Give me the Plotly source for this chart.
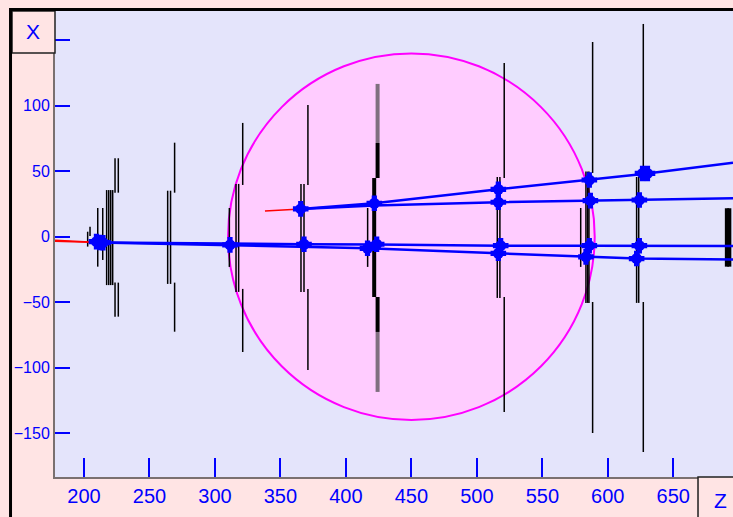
import plotly.graph_objects as go

# ---------------- data (detector coordinates: Z horizontal, X vertical) ----------------
# thin black strip-hit segments: z position, lower x, upper x
thin_z  = [202.8, 204.6, 210.5, 214.3, 217.3, 218.9, 220.4, 221.9,
           223.7, 226.2, 223.7, 226.2,
           263.9, 266.1, 269.2, 269.2,
           311.0, 316.1, 318.1, 321.2, 321.2,
           365.7, 368.0, 371.0, 371.0,
           416.6,
           515.6, 517.6, 520.9, 520.9,
           579.3, 583.3, 584.6, 585.6, 588.4, 588.4,
           622.0, 623.6, 627.1, 627.1]
thin_lo = [-7.6, 0.5, -22.9, -17.8, -37.0, -37.0, -37.0, -37.0,
           33.6, 33.6, -61.1, -61.1,
           -36.1, -36.1, 33.6, -72.6,
           -23.1, -42.2, -42.2, 39.5, -88.1,
           -42.2, -42.2, 39.5, -101.8,
           -23.1,
           -46.8, -46.8, 44.8, -133.9,
           -23.1, -50.6, -50.6, -50.6, 48.7, -150.0,
           -50.6, -50.6, 45.6, -164.5]
thin_hi = [3.8, 7.6, 21.9, 21.9, 35.6, 35.6, 35.6, 35.6,
           59.9, 59.9, -35.1, -35.1,
           35.1, 35.1, 71.8, -35.1,
           21.9, 40.3, 40.3, 86.9, -39.9,
           40.3, 40.3, 100.6, -39.9,
           21.9,
           45.6, 45.6, 132.7, -46.1,
           21.9, 49.7, 49.7, 49.7, 148.7, -49.9,
           45.6, 45.6, 162.5, -49.9]

# thick black segments
thick_z  = [421.6, 424.2, 424.2, 690.9, 692.8]
thick_lo = [-46.1, 44.8, -72.8, -22.9, -22.9]
thick_hi = [44.8, 71.6, -46.1, 21.7, 21.7]

# thick grey segments
grey_z  = [424.2, 424.2]
grey_lo = [71.6, -118.6]
grey_hi = [116.7, -72.8]

# reconstructed tracks (z, x)
trkA_z = [365.5, 421.7, 516.4, 585.9, 626.9, 695.6]
trkA_x = [21.2, 25.5, 36.2, 43.3, 47.9, 56.5]
trkB_z = [365.5, 421.7, 516.4, 585.9, 624.1, 695.6]
trkB_x = [21.2, 23.8, 26.3, 27.5, 28.2, 29.3]
trkC_z = [211.5, 311.5, 368.0, 423.5, 518.2, 585.9, 624.1, 695.6]
trkC_x = [-4.4, -5.6, -5.8, -6.0, -6.9, -6.9, -6.9, -7.1]
trkD_z = [211.5, 311.5, 368.0, 416.5, 516.4, 583.3, 622.0, 695.6]
trkD_x = [-4.4, -6.7, -7.9, -8.9, -12.7, -15.4, -16.7, -17.4]

# red extrapolations
red1_z = [338.2, 365.5]
red1_x = [19.6, 21.2]
red2_z = [177.9, 211.5]
red2_x = [-2.8, -4.4]
red3_z = [177.9, 211.5]
red3_x = [-3.5, -4.4]

# hit markers on tracks
hit_z = [365.5, 421.7, 516.4, 585.9, 626.5, 630.3,
         516.4, 586.7, 624.1,
         311.5, 368.0, 423.5, 518.2, 585.9, 624.1,
         416.5, 516.4, 583.3, 622.0,
         209.5, 212.0, 214.5]
hit_x = [21.2, 25.5, 36.2, 43.3, 48.3, 48.3,
         26.3, 27.5, 28.0,
         -6.3, -5.8, -5.8, -6.9, -6.9, -6.9,
         -8.9, -12.7, -15.4, -16.7,
         -3.8, -4.4, -4.6]

# magnet / circle region
circ_zc, circ_xc, circ_r = 450.0, 0.0, 140.0

x_ticks = [200, 250, 300, 350, 400, 450, 500, 550, 600, 650]
y_ticks = [-150, -100, -50, 0, 50, 100, 150]
y_text = ["\u2212150", "\u2212100", "\u221250", "0", "50", "100", ""]


def segs(zs, lo, hi):
    xs, ys = [], []
    for z, a, b in zip(zs, lo, hi):
        xs += [z, z, None]
        ys += [a, b, None]
    return xs, ys


BLUE = "#0000ff"
PINK = "#ffe4e4"
LAV = "#e4e4fb"

fig = go.Figure()

sx, sy = segs(grey_z, grey_lo, grey_hi)
fig.add_trace(go.Scatter(x=sx, y=sy, mode="lines", line=dict(color="#7f6f7f", width=4),
                         hoverinfo="skip", showlegend=False))
sx, sy = segs(thin_z, thin_lo, thin_hi)
fig.add_trace(go.Scatter(x=sx, y=sy, mode="lines", line=dict(color="black", width=1.5),
                         hoverinfo="skip", showlegend=False))
sx, sy = segs(thick_z, thick_lo, thick_hi)
fig.add_trace(go.Scatter(x=sx, y=sy, mode="lines", line=dict(color="black", width=4),
                         hoverinfo="skip", showlegend=False))

for zz, xx in [(red1_z, red1_x), (red2_z, red2_x), (red3_z, red3_x)]:
    fig.add_trace(go.Scatter(x=zz, y=xx, mode="lines", line=dict(color="#ff0000", width=1.5),
                             hoverinfo="skip", showlegend=False))

for zz, xx in [(trkA_z, trkA_x), (trkB_z, trkB_x), (trkC_z, trkC_x), (trkD_z, trkD_x)]:
    fig.add_trace(go.Scatter(x=zz, y=xx, mode="lines", line=dict(color=BLUE, width=2.5),
                             hoverinfo="skip", showlegend=False))

fig.add_trace(go.Scatter(x=hit_z, y=hit_x, mode="markers",
                         marker=dict(symbol="circle", size=11, color=BLUE, line=dict(width=0)),
                         hoverinfo="skip", showlegend=False))
fig.add_trace(go.Scatter(x=hit_z, y=hit_x, mode="markers",
                         marker=dict(symbol="cross", size=13, color=BLUE, line=dict(width=0)),
                         hoverinfo="skip", showlegend=False))

fig.add_shape(type="circle", xref="x", yref="y",
              x0=circ_zc - circ_r, x1=circ_zc + circ_r,
              y0=circ_xc - circ_r, y1=circ_xc + circ_r,
              fillcolor="#ffccff", line=dict(color="#ff00ff", width=2), layer="below")

# label boxes and outer frame (paper coordinates)
fig.add_shape(type="rect", xref="paper", yref="paper", x0=-0.0634, x1=0.0, y0=0.9099, y1=1.0,
              fillcolor=PINK, line=dict(color="#202020", width=1.5), layer="above")
fig.add_shape(type="rect", xref="paper", yref="paper", x0=0.9484, x1=1.05, y0=-0.2, y1=0.0,
              fillcolor=PINK, line=dict(color="#202020", width=1.5), layer="above")
fig.add_shape(type="rect", xref="paper", yref="paper", x0=-0.0656, x1=1.2, y0=-0.3, y1=1.0032,
              fillcolor="rgba(0,0,0,0)", line=dict(color="black", width=3), layer="above")

fig.add_annotation(text="X", xref="paper", yref="paper", x=-0.0324, y=0.955, showarrow=False,
                   xanchor="center", yanchor="middle",
                   font=dict(family="Liberation Sans", size=21, color=BLUE))
fig.add_annotation(text="Z", xref="paper", yref="paper", x=0.9816, y=-0.0494, showarrow=False,
                   xanchor="center", yanchor="middle",
                   font=dict(family="Liberation Sans", size=21, color=BLUE))

fig.update_layout(
    width=733, height=517,
    margin=dict(l=55, r=0, t=11, b=40),
    paper_bgcolor=PINK, plot_bgcolor=LAV,
    xaxis=dict(range=[177.86, 695.6], showgrid=False, zeroline=False,
               tickvals=x_ticks, ticks="inside", ticklen=19, tickwidth=2, tickcolor=BLUE,
               tickfont=dict(family="Liberation Sans", size=20, color=BLUE),
               showline=True, linecolor="#7a7070", linewidth=2),
    yaxis=dict(range=[-183.6, 172.4], showgrid=False, zeroline=False,
               tickvals=y_ticks, ticktext=y_text, ticks="inside", ticklen=15, tickwidth=2,
               tickcolor=BLUE, tickfont=dict(family="Liberation Sans", size=16, color=BLUE),
               showline=True, linecolor="#7a7070", linewidth=2),
)

fig.write_html("out.html")
